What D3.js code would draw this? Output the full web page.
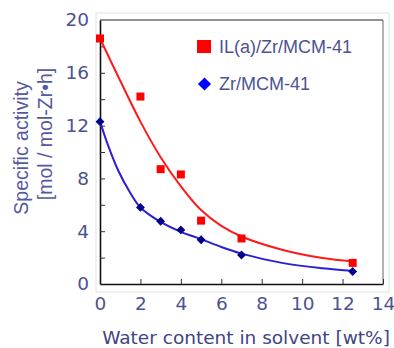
<!DOCTYPE html>
<html><head><meta charset="utf-8">
<script src="https://cdn.jsdelivr.net/npm/d3@7"></script>
<style>body{margin:0;background:#fff}svg{display:block}</style>
</head><body>
<svg id="c" width="394" height="348"></svg>
<script>
const waterIL = [0, 2, 3, 4, 5, 7, 12.5];
const actIL   = [18.6, 14.2, 8.7, 8.3, 4.8, 3.45, 1.6];
const waterZr = [0, 2, 3, 4, 5, 7, 12.5];
const actZr   = [12.3, 5.8, 4.75, 4.1, 3.35, 2.2, 0.95];
// fitted trend curves
const fitX_IL = [0, 1, 2, 3, 4, 5, 6, 7, 9, 11, 12.5];
const fitY_IL = [18.6, 15.4, 12.3, 9.6, 7.4, 5.6, 4.4, 3.6, 2.6, 1.97, 1.71];
const fitX_Zr = [0, 0.4, 0.9, 1.5, 2, 3, 4, 5, 6, 7, 9, 11, 12.5];
const fitY_Zr = [12.3, 10.5, 8.6, 6.9, 5.8, 4.7, 3.95, 3.4, 2.8, 2.3, 1.6, 1.2, 1.0];
const xTicks = [0, 2, 4, 6, 8, 10, 12, 14];
const yTicks = [0, 4, 8, 12, 16, 20];
const legendLabels = ["IL(a)/Zr/MCM-41", "Zr/MCM-41"];

const svg = d3.select("#c");
const x = d3.scaleLinear().domain([0, 14]).range([100, 383]);
const y = d3.scaleLinear().domain([0, 20]).range([284, 20]);
const txt = "#4b5394";

// outer faint frame
svg.append("rect").attr("x", 96).attr("y", 13).attr("width", 293).attr("height", 279)
  .attr("fill", "none").attr("stroke", "#e2e2e2");
svg.append("rect").attr("x", 100).attr("y", 20).attr("width", 283).attr("height", 264)
  .attr("fill", "#fff").attr("stroke", "none");
svg.append("line").attr("x1", 100).attr("x2", 383).attr("y1", 20).attr("y2", 20).attr("stroke", "#222");
svg.append("line").attr("x1", 383).attr("x2", 383).attr("y1", 20).attr("y2", 284).attr("stroke", "#666");

// axes with inward ticks
const xAxis = d3.axisBottom(x).tickValues(xTicks).tickSizeInner(-5).tickSizeOuter(0).tickPadding(13);
const gx = svg.append("g").attr("transform", "translate(0,284)").call(xAxis);
const yAxis = d3.axisLeft(y).tickValues(d3.range(0, 21, 2)).tickSizeInner(-5).tickSizeOuter(0).tickPadding(11)
  .tickFormat(d => yTicks.includes(d) ? d : "");
const gy = svg.append("g").attr("transform", "translate(100,0)").call(yAxis);
[gx, gy].forEach(g => {
  g.select(".domain").attr("stroke", "#111").attr("stroke-width", 1.6);
  g.selectAll(".tick line").attr("stroke", "#333");
  g.selectAll(".tick text").attr("fill", txt).attr("font-family", "DejaVu Sans, sans-serif").attr("font-size", 18.5);
});
gx.selectAll(".tick").filter(d => d === 0).select("line").remove();
gy.selectAll(".tick").filter(d => d === 0 || d === 20).select("line").remove();

// curves
const line = d3.line().x(d => x(d[0])).y(d => y(d[1])).curve(d3.curveCatmullRom.alpha(0.5));
svg.append("path").datum(fitX_IL.map((v, i) => [v, fitY_IL[i]]))
  .attr("d", line).attr("fill", "none").attr("stroke", "#ff1a1a").attr("stroke-width", 2);
svg.append("path").datum(fitX_Zr.map((v, i) => [v, fitY_Zr[i]]))
  .attr("d", line).attr("fill", "none").attr("stroke", "#2b1fd6").attr("stroke-width", 2);

// markers
const sq = d3.symbol().type(d3.symbolSquare).size(64);
const dia = d3.symbol().type(d3.symbolDiamond2).size(50);
svg.selectAll(".sq").data(waterIL.map((v, i) => [v, actIL[i]])).join("path")
  .attr("transform", d => `translate(${x(d[0])},${y(d[1])})`).attr("d", sq).attr("fill", "#ff0000");
svg.selectAll(".dm").data(waterZr.map((v, i) => [v, actZr[i]])).join("path")
  .attr("transform", d => `translate(${x(d[0])},${y(d[1])})`).attr("d", dia).attr("fill", "#00008b");

// legend
svg.append("rect").attr("x", 197).attr("y", 40).attr("width", 14).attr("height", 13).attr("fill", "#ff0000");
svg.append("path").attr("transform", "translate(204.5,84)").attr("d", d3.symbol().type(d3.symbolDiamond2).size(110)()).attr("fill", "#0000ff");
svg.selectAll(".lg").data(legendLabels).join("text")
  .attr("x", 219).attr("y", (d, i) => 53 + i * 37).text(d => d)
  .attr("font-family", "Liberation Sans, Arial, sans-serif").attr("font-size", 18).attr("fill", txt);

// axis titles
svg.append("text").attr("x", 246).attr("y", 344).attr("text-anchor", "middle")
  .attr("font-family", "DejaVu Sans, sans-serif").attr("font-size", 18.5).attr("fill", "#3d4585")
  .text("Water content in solvent [wt%]");
const yl = svg.append("g").attr("font-family", "Liberation Sans, Arial, sans-serif").attr("font-size", 19.5).attr("fill", "#5459a0").attr("text-anchor", "middle");
yl.append("text").attr("transform", "translate(28,148) rotate(-90)").text("Specific activity");
yl.append("text").attr("transform", "translate(52,134) rotate(-90)").text("[mol / mol-Zr\u2022h]");
</script>
</body></html>
